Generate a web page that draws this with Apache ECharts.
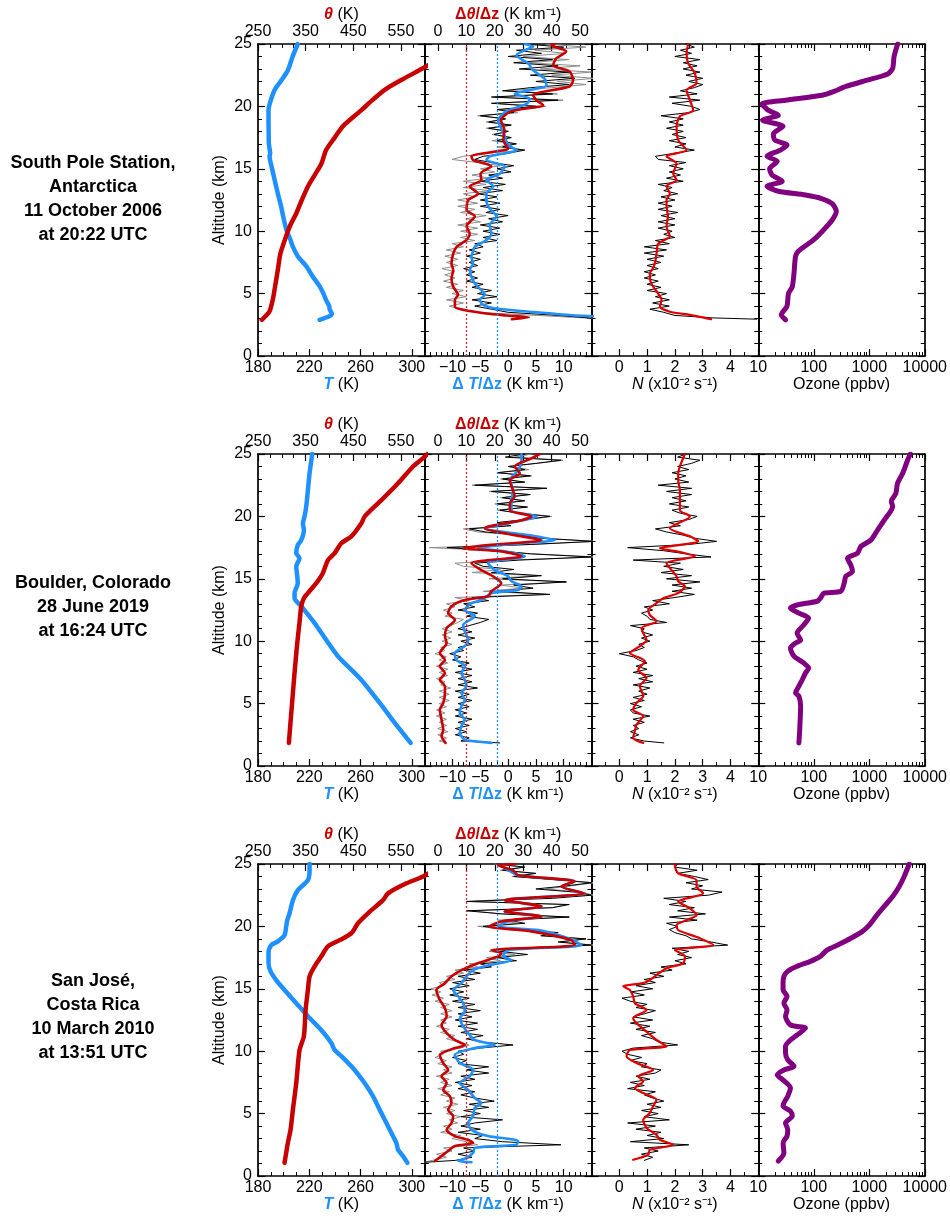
<!DOCTYPE html>
<html>
<head>
<meta charset="utf-8">
<script src="https://cdn.jsdelivr.net/npm/echarts@6/dist/echarts.min.js"></script>
<style>
  html, body { margin: 0; padding: 0; background: #ffffff; }
  #chart { width: 950px; height: 1220px; }
</style>
</head>
<body>
<div id="chart"></div>
<script>
// ---------------------------------------------------------------------------
// Sounding profiles: temperature / potential temperature, vertical gradients,
// buoyancy frequency N and ozone for three balloon launch sites.
// All profiles are stored as [altitude (km), value] pairs.
// ---------------------------------------------------------------------------

const stationLabels = [
  ['South Pole Station,', 'Antarctica', '11 October 2006', 'at 20:22 UTC'],
  ['Boulder, Colorado', '28 June 2019', 'at 16:24 UTC'],
  ['San José,', 'Costa Rica', '10 March 2010', 'at 13:51 UTC']
];

// Tick values
const altTicks = [0, 5, 10, 15, 20, 25];
const altMinor = [1, 2, 3, 4, 6, 7, 8, 9, 11, 12, 13, 14, 16, 17, 18, 19, 21, 22, 23, 24];
const tempTicks = [180, 220, 260, 300];
const tempMinor = [190, 200, 210, 230, 240, 250, 270, 280, 290];
const thetaTicks = [250, 350, 450, 550];
const thetaMinor = [275, 300, 325, 375, 400, 425, 475, 500, 525, 575];
const lapseTicks = [-10, -5, 0, 5, 10];
const lapseMinor = [-14, -13, -12, -11, -9, -8, -7, -6, -4, -3, -2, -1, 1, 2, 3, 4, 6, 7, 8, 9, 11, 12, 13, 14];
const gradTicks = [0, 10, 20, 30, 40, 50];
const gradMinor = [5, 15, 25, 35, 45];
const nTicks = [0, 1, 2, 3, 4];
const nMinor = [-0.5, 0.5, 1.5, 2.5, 3.5, 4.5];
const ozoneTicks = [10, 100, 1000, 10000];
const ozoneMinor = [20, 30, 40, 50, 60, 70, 80, 90, 200, 300, 400, 500, 600, 700, 800, 900,
                    2000, 3000, 4000, 5000, 6000, 7000, 8000, 9000];

// Reference lines in the gradient panels
const lapseRef = -2;   // K/km
const gradRef = 10;    // K/km

// ---------------- South Pole ----------------
const temp1 = [[2.9,228],[3.2,236],[3.4,237.6],[3.7,236],[4.0,235.5],[4.5,233],[5.0,231],[5.6,228],[6.4,222.5],[7.2,217.6],[8.0,211],[8.8,207],[9.4,205],[10.0,202.5],[11.0,200],[12.0,198],[13.0,195.5],[14.1,193],[15.0,191],[16.0,189],[16.2,189.5],[17.0,188.5],[18.0,188.3],[19.0,188.2],[19.7,188.2],[20.5,190],[21.4,193.4],[22.2,199],[22.9,203.3],[24.0,207],[25.0,211]];
const theta1 = [[2.9,258],[3.2,266],[3.55,274],[4.5,281],[5.6,286],[7.0,292],[8.2,297],[9.6,309],[10.5,318],[11.4,330],[12.5,342],[13.6,355],[14.5,369],[15.4,383],[16.5,393],[17.5,411],[18.4,428],[19.7,467],[20.5,490],[21.4,519],[22.2,555],[23.05,596],[24,640],[25,690]];
const lapse1 = [[3.1,22],[3.2,14.5],[3.35,9],[3.55,3.9],[3.8,-2.1],[4.1,-4.5],[4.5,-5.1],[4.9,-4.2],[5.4,-5.1],[5.8,-6.0],[6.35,-6.6],[6.9,-6.9],[7.4,-6.3],[7.95,-6.6],[8.4,-6.3],[8.75,-6.0],[9.3,-3.9],[9.8,-3.0],[10.5,-3.3],[11.2,-2.1],[11.8,-3.3],[12.4,-3.9],[13.0,-3.9],[13.6,-2.7],[14.1,-3.9],[14.6,-1.5],[15.2,-0.6],[15.7,-3.9],[16.0,-3.3],[16.5,1.5],[16.9,0],[17.6,-0.6],[18.2,-1.2],[18.9,-1.8],[19.6,-0.3],[20.2,3.3],[20.6,3.9],[21.0,1.2],[21.7,6.9],[22.2,6.6],[22.9,4.5],[23.45,3.6],[24.1,1.5],[24.5,3],[24.8,4.5],[25,3.0]];
const grad1 = [[2.95,26],[3.1,32],[3.25,24],[3.4,17],[3.7,8.9],[3.95,6.0],[4.5,6.0],[4.9,7.1],[5.55,5.4],[6.2,4.8],[6.9,5.4],[7.4,4.8],[8.2,5.4],[8.75,6.6],[9.3,10.1],[9.8,11.2],[10.4,10.1],[11.2,13],[11.7,10.1],[12.5,10.7],[13.0,14.1],[13.6,11.2],[14.1,15.3],[14.6,15],[15.2,18.8],[15.7,12.4],[16.0,11.8],[16.4,20.6],[16.6,24.7],[17.3,23],[18.1,23.4],[18.9,22.2],[19.6,25.7],[20.1,37],[20.5,34.6],[20.9,33.5],[21.6,46.3],[22.1,47.5],[22.8,46.3],[23.3,40.5],[23.85,41.6],[24.4,45.1],[24.9,39.9],[25,41]];
const lapseRaw1 = [[3,16],[3.25,9],[3.5,0],[3.75,-3],[4,-6],[4.25,-3],[4.5,-6.5],[4.75,-2],[5,-5.5],[5.25,-3],[5.5,-6.5],[5.75,-4.5],[6,-7.5],[6.25,-5.5],[6.5,-7.5],[6.75,-6],[7,-8],[7.25,-5.5],[7.5,-7],[7.75,-5],[8,-7.5],[8.25,-5],[8.5,-7],[8.75,-4.5],[9,-6],[9.25,-2],[9.5,-4.5],[9.75,-1.5],[10,-4.5],[10.25,-1.5],[10.5,-5],[10.75,-1],[11,-3.5],[11.25,0],[11.5,-4],[11.75,-1.5],[12,-5],[12.25,-1.5],[12.5,-5],[12.75,-2],[13,-5.5],[13.25,-1],[13.5,-4.5],[13.75,-0.5],[14,-5],[14.25,-1],[14.5,-3.5],[14.75,0.5],[15,-2],[15.25,1],[15.5,-3],[15.75,-6],[16,-4.5],[16.25,0],[16.5,3],[16.75,-1],[17,1.5],[17.25,-2],[17.5,0.5],[17.75,-2.5],[18,0],[18.25,-3.5],[18.5,0.5],[18.75,-3.5],[19,-0.5],[19.25,-5],[19.5,1],[19.75,-2],[20,5],[20.25,-3],[20.5,9],[20.75,-3],[21,8],[21.25,-1],[21.5,4],[21.75,11],[22,5],[22.25,12],[22.5,4],[22.75,11],[23,2],[23.25,9],[23.5,1],[23.75,8],[24,0],[24.25,6],[24.5,1.5],[24.75,10],[25,3]];
const gradRaw1 = [[3,56],[3.25,35],[3.5,14],[3.75,8],[4,4],[4.25,9],[4.5,3],[4.75,10],[5,5],[5.25,9],[5.5,3],[5.75,7],[6,2],[6.25,6],[6.5,2.5],[6.75,6],[7,1.5],[7.25,7],[7.5,3],[7.75,7],[8,2.5],[8.25,8],[8.5,3],[8.75,9],[9,5],[9.25,13],[9.5,8],[9.75,14],[10,8],[10.25,14],[10.5,7],[10.75,15],[11,10],[11.25,17],[11.5,8],[11.75,13],[12,7],[12.25,14],[12.5,7],[12.75,13],[13,9],[13.25,18],[13.5,9],[13.75,17],[14,9],[14.25,18],[14.5,12],[14.75,20],[15,15],[15.25,22],[15.5,14],[15.75,5],[16,9],[16.25,18],[16.5,30],[16.75,21],[17,27],[17.25,19],[17.5,26],[17.75,19],[18,25],[18.25,17],[18.5,26],[18.75,17],[19,24],[19.25,14],[19.5,28],[19.75,22],[20,38],[20.25,20],[20.5,44],[20.75,20],[21,42],[21.25,24],[21.5,40],[21.75,52],[22,42],[22.25,55],[22.5,40],[22.75,54],[23,36],[23.25,50],[23.5,32],[23.75,46],[24,30],[24.25,45],[24.5,34],[24.75,52],[25,38]];
const n1 = [[2.95,3.3],[3.1,3.0],[3.3,2.54],[3.55,1.82],[3.95,1.46],[4.5,1.52],[5.0,1.40],[5.55,1.22],[6.0,1.12],[6.6,1.1],[7.0,1.2],[7.4,1.28],[8.2,1.34],[9.0,1.4],[9.6,1.82],[10.0,1.75],[10.4,1.7],[11.2,1.75],[12.0,1.7],[12.5,1.7],[13.0,1.82],[13.6,1.7],[14.1,2.06],[14.6,1.94],[15.4,2.06],[16.0,1.7],[16.5,2.42],[17.3,2.12],[18.4,2.06],[19.2,2.18],[19.7,2.66],[20.5,2.54],[21.3,2.42],[21.85,2.78],[22.65,2.72],[23.45,2.48],[24.25,2.42],[25,2.48]];
const nRaw1 = [[2.95,4.95],[3.05,3.4],[3.25,2.0],[3.5,1.6],[3.75,1.1],[4,1.8],[4.25,1.2],[4.5,1.8],[4.75,1.3],[5,1.7],[5.25,1],[5.5,1.5],[5.75,1],[6,1.4],[6.25,0.9],[6.5,1.3],[6.75,0.9],[7,1.4],[7.25,1],[7.5,1.5],[7.75,1],[8,1.6],[8.25,0.9],[8.5,1.7],[8.75,0.9],[9,1.8],[9.25,1.3],[9.5,2],[9.75,1.6],[10,1.9],[10.25,1.4],[10.5,2],[10.75,1.4],[11,2],[11.25,1.5],[11.5,2.1],[11.75,1.4],[12,1.9],[12.25,1.4],[12.5,2],[12.75,1.5],[13,2.1],[13.25,1.6],[13.5,1.9],[13.75,1.4],[14,2.3],[14.25,1.7],[14.5,2.2],[14.75,1.8],[15,2.3],[15.25,1.8],[15.5,2.4],[15.75,1.4],[16,1.3],[16.25,2],[16.5,2.7],[16.75,2],[17,2.4],[17.25,1.8],[17.5,2.4],[17.75,1.9],[18,2.3],[18.25,1.7],[18.5,2.3],[18.75,1.8],[19,2.3],[19.25,1.5],[19.5,2.5],[19.75,2.9],[20,2.6],[20.25,1.9],[20.5,2.9],[20.75,1.8],[21,2.8],[21.25,2.2],[21.5,2.7],[21.75,3],[22,2.5],[22.25,3],[22.5,2.4],[22.75,2.9],[23,2.3],[23.25,2.8],[23.5,2.3],[23.75,2.9],[24,2],[24.25,2.6],[24.5,2.2],[24.75,2.7],[25,2.4]];
const ozone1 = [[2.9,31],[3.3,26],[4.0,33],[5.0,35],[5.55,41],[6.6,44],[8.0,47],[8.4,53],[9.3,99],[10.1,150],[10.9,215],[11.6,255],[12.2,215],[12.6,142],[12.9,71],[13.2,23],[13.6,14.4],[14.0,27],[14.5,17.7],[15.0,16],[15.6,22],[16.0,14.4],[16.5,25],[16.9,33],[17.3,20],[17.8,18.7],[18.4,28],[18.9,12],[19.3,23],[19.7,15],[20.2,11.7],[20.5,31],[20.9,142],[21.2,230],[21.6,380],[22.1,920],[22.6,2150],[23.05,2640],[24.0,2800],[25.0,3250]];

// ---------------- Boulder ----------------
const temp2 = [[1.85,299],[2.5,294],[3.45,286.6],[5.05,274.9],[6.9,260.6],[8.8,242.3],[10.1,233.2],[11.45,224.1],[12.8,213.7],[13.45,208.5],[13.85,208.5],[14.65,211],[15.3,210.5],[16.0,209.8],[16.65,212.4],[17.05,209.8],[17.7,211],[18.1,213.7],[18.9,215.8],[19.45,215],[20.0,216.3],[20.8,217.6],[22.1,218.9],[23.45,220.2],[25,222.3]];
const theta2 = [[1.85,314.8],[4.8,321],[7.45,326.7],[9.85,332.4],[11.45,337],[12.8,340.8],[13.45,346.3],[13.85,354.7],[14.65,372.3],[15.45,386],[16.5,396.8],[17.05,410.8],[17.85,424.9],[18.4,446],[19.45,467],[20.0,474],[21.3,509],[22.65,544],[24.0,575.4],[24.65,596],[25,606]];
const lapse2 = [[1.85,-3.0],[2.0,-6.5],[2.1,-7.8],[2.65,-8.7],[3.2,-8.4],[3.7,-7.8],[4.25,-8.7],[4.8,-8.4],[5.3,-7.8],[5.85,-8.4],[6.4,-7.5],[6.9,-7.8],[7.45,-8.4],[8.0,-7.8],[8.5,-9.3],[9.05,-9.6],[9.6,-7.8],[10.1,-7.2],[10.8,-7.8],[11.3,-8.1],[12.0,-6.0],[12.5,-7.8],[13.05,-6.6],[13.3,-4.8],[13.85,-3.0],[14.1,1.8],[14.4,2.4],[14.8,0.6],[15.2,0],[15.7,-2.4],[16.25,-3.6],[16.8,3.0],[17.2,-0.6],[17.45,-5.4],[17.85,2.4],[18.1,8.4],[18.5,3.6],[19.05,-4.2],[19.45,0],[20.0,5.1],[20.5,0.6],[21.3,0.6],[22.1,0.9],[22.9,0.3],[23.7,1.8],[24.5,2.4],[25,2.4]];
const grad2 = [[1.85,2.7],[2.4,1.3],[2.9,1.9],[3.7,1.3],[4.5,0.7],[5.05,1.9],[5.85,2.5],[6.4,2.5],[6.9,0.7],[7.45,2.5],[8.0,0.7],[8.5,2.5],[9.05,0.7],[9.85,3.1],[10.4,2.5],[11.05,3.1],[11.7,6.0],[12.25,3.6],[12.8,4.8],[13.3,9.5],[13.6,17.7],[14.0,18.8],[14.65,22.3],[15.2,19.4],[15.7,15.3],[16.25,11.8],[16.8,29.4],[17.2,22.3],[17.45,8.9],[17.7,17.7],[18.1,36.4],[18.5,27],[19.05,16.5],[19.7,29.4],[20.0,32.9],[20.5,25.3],[21.05,25.3],[21.6,27],[22.1,26.4],[22.9,25.3],[23.45,28.8],[24.0,27],[24.65,32.9],[25,35.8]];
const lapseRaw2 = [[1.85,-1.5],[2,-8.5],[2.25,-7],[2.5,-9.5],[2.75,-7.5],[3,-9.5],[3.25,-7],[3.5,-9],[3.75,-6.5],[4,-9.5],[4.25,-7.5],[4.5,-9.5],[4.75,-7],[5,-9],[5.25,-6.5],[5.5,-9],[5.75,-7],[6,-9.5],[6.25,-5.5],[6.5,-9],[6.75,-6.5],[7,-9],[7.25,-6.5],[7.5,-9.5],[7.75,-6.5],[8,-9],[8.25,-7],[8.5,-10],[8.75,-8.5],[9,-10.5],[9.25,-8],[9.5,-9],[9.75,-6.5],[10,-8.5],[10.25,-6],[10.5,-9],[10.75,-6.5],[11,-9],[11.25,-7],[11.5,-5],[11.75,-3.5],[12,-7.5],[12.25,-5.5],[12.5,-9],[12.75,-6],[13,-8],[13.25,-3.5],[13.5,-6.5],[13.75,7.5],[14,-2],[14.25,4.5],[14.5,1],[14.75,10.5],[15,-1],[15.25,6],[15.5,-3],[15.75,1],[16,-4.5],[16.25,-6],[16.5,2],[16.75,15],[17,4],[17.25,-2],[17.5,-11],[17.75,4],[18,15.5],[18.25,6],[18.5,2],[18.75,-4],[19,-7],[19.25,0.5],[19.5,-2],[19.75,3],[20,7.5],[20.25,2],[20.5,-1.5],[20.75,3.5],[21,-2],[21.25,3],[21.5,-1],[21.75,4],[22,-3],[22.25,7],[22.5,-6],[22.75,3],[23,-1],[23.25,4],[23.5,-2],[23.75,3],[24,0],[24.25,5],[24.5,9.5],[24.75,-0.5],[25,3]];
const gradRaw2 = [[1.85,3],[2,0.5],[2.25,3],[2.5,0],[2.75,3.5],[3,0],[3.25,3],[3.5,0.5],[3.75,3],[4,-0.5],[4.25,2.5],[4.5,-0.5],[4.75,3],[5,0.5],[5.25,4],[5.5,0.5],[5.75,4],[6,0.5],[6.25,4.5],[6.5,1],[6.75,2.5],[7,-0.5],[7.25,3.5],[7.5,0.5],[7.75,3.5],[8,-0.5],[8.25,3.5],[8.5,0.5],[8.75,3],[9,-1],[9.25,2.5],[9.5,1],[9.75,5],[10,1.5],[10.25,4.5],[10.5,1.5],[10.75,5],[11,1.5],[11.25,4.5],[11.5,7],[11.75,9],[12,2.5],[12.25,5],[12.5,2],[12.75,6],[13,3],[13.25,11],[13.5,6],[13.75,38],[14,16],[14.25,30],[14.5,22],[14.75,45],[15,18],[15.25,35],[15.5,12],[15.75,22],[16,9],[16.25,6],[16.5,25],[16.75,56],[17,33],[17.25,20],[17.5,-3],[17.75,32],[18,56],[18.25,36],[18.5,28],[18.75,14],[19,9],[19.25,24],[19.5,21],[19.75,32],[20,40],[20.25,29],[20.5,21],[20.75,31],[21,20],[21.25,30],[21.5,22],[21.75,32],[22,18],[22.25,38],[22.5,12],[22.75,30],[23,22],[23.25,33],[23.5,21],[23.75,32],[24,25],[24.25,35],[24.5,44],[24.75,27],[25,33]];
const n2 = [[1.85,0.86],[2.25,0.5],[2.8,0.56],[3.3,0.62],[4.0,0.86],[4.5,0.5],[5.05,0.62],[5.6,0.86],[6.4,0.74],[7.05,0.98],[7.7,0.68],[8.4,0.92],[9.05,0.38],[9.6,0.74],[10.1,0.98],[10.65,0.86],[11.05,0.8],[11.6,1.34],[12.1,1.1],[12.5,1.04],[13.05,1.34],[13.45,1.58],[13.85,2.12],[14.4,2.36],[14.8,2.12],[15.2,2.06],[15.7,1.88],[16.25,1.7],[16.8,2.72],[17.2,2.06],[17.45,1.46],[18.0,2.84],[18.4,2.54],[19.05,1.82],[20.0,2.54],[20.5,2.18],[21.3,2.18],[22.1,2.18],[22.9,2.12],[23.45,2.12],[24.0,2.18],[25,2.36]];
const nRaw2 = [[1.85,1.6],[2,0.9],[2.25,0.4],[2.5,0.7],[2.75,0.4],[3,0.7],[3.25,0.5],[3.5,0.9],[3.75,0.5],[4,1.1],[4.25,0.5],[4.5,0.4],[4.75,0.8],[5,0.4],[5.25,0.9],[5.5,0.5],[5.75,1],[6,0.7],[6.25,1.1],[6.5,0.5],[6.75,1.2],[7,0.7],[7.25,1.2],[7.5,0.5],[7.75,1],[8,0.6],[8.25,1],[8.5,0.7],[8.75,0.5],[9,0],[9.25,0.6],[9.5,0.9],[9.75,0.7],[10,1.1],[10.25,0.8],[10.5,1.2],[10.75,0.8],[11,0.9],[11.25,0.4],[11.5,1.7],[11.75,1.1],[12,1],[12.25,0.8],[12.5,1.2],[12.75,0.9],[13,1.8],[13.25,1.2],[13.5,2],[13.75,2.7],[14,1.9],[14.25,2.6],[14.5,1.9],[14.75,2.9],[15,1.7],[15.25,2.6],[15.5,1.5],[15.75,2.3],[16,1.6],[16.25,2.2],[16.5,0.5],[16.75,3.3],[17,2.4],[17.25,1.6],[17.5,0.3],[17.75,2.5],[18,3.5],[18.25,2.7],[18.5,2.3],[18.75,1.7],[19,1.3],[19.25,2.2],[19.5,1.8],[19.75,2.5],[20,2.8],[20.25,2.2],[20.5,1.9],[20.75,2.5],[21,1.8],[21.25,2.4],[21.5,1.9],[21.75,2.6],[22,1.7],[22.25,2.6],[22.5,1.4],[22.75,2.5],[23,2],[23.25,2.4],[23.5,1.9],[23.75,2.5],[24,2.1],[24.25,2.6],[24.5,2.9],[24.75,2.1],[25,2.4]];
const ozone2 = [[1.85,54],[3.0,56],[4.8,58],[5.6,54],[5.85,47],[6.4,54],[6.9,62],[7.45,71],[7.85,81],[8.25,66],[8.8,44],[9.45,38],[9.85,47],[10.1,58],[10.65,50],[10.9,54],[11.3,66],[11.85,81],[12.25,54],[12.65,38],[12.9,50],[13.2,115],[13.45,132],[13.85,152],[14.0,307],[14.65,354],[15.2,378],[15.6,500],[16.1,466],[16.65,405],[17.05,615],[17.6,710],[18.1,1070],[18.9,1410],[19.7,1860],[20.8,2640],[21.2,2500],[21.85,3020],[22.65,3230],[23.45,4000],[24.5,4900],[25,5500]];

// ---------------- San José ----------------
const temp3 = [[1.05,296.5],[1.6,293],[2.1,289.2],[2.65,287.9],[3.2,285.2],[4.25,280.1],[5.3,274.9],[6.4,269.6],[7.45,263.1],[8.5,255.3],[9.6,245],[10.1,239.7],[10.65,237.2],[11.7,229.3],[12.8,218.9],[13.85,209.8],[14.9,200.7],[15.7,194.2],[16.4,189.8],[17.05,188.2],[17.85,188.2],[18.5,190.3],[18.8,195.5],[19.3,200.7],[20.0,202],[20.5,202.8],[21.05,204.6],[22.1,207.2],[22.9,211.1],[23.7,218.9],[24.5,220.2],[25,220.2]];
const theta3 = [[1.05,305.7],[2.65,312.7],[3.7,318.3],[5.3,323.2],[7.45,330.3],[10.1,337.2],[11.2,346.3],[13.3,349.9],[14.9,354.7],[16.0,358.3],[16.8,368.8],[17.6,382.9],[18.4,396.7],[18.9,421.3],[19.45,446],[20.25,459.8],[21.05,480.8],[22.1,512.4],[22.65,522.9],[23.45,561.5],[24.0,596.4],[25,640]];
const lapse3 = [[1.1,-6.6],[1.2,-9.0],[1.45,-7.5],[1.85,-6.3],[2.25,-6.0],[2.4,-2],[2.5,1.5],[2.8,1.8],[3.2,-3.6],[3.7,-6.6],[4.25,-7.2],[4.8,-6.3],[5.45,-6.0],[5.85,-4.8],[6.25,-6.0],[6.9,-7.2],[7.45,-8.7],[8.0,-6.9],[8.5,-6.3],[9.05,-8.7],[9.7,-9.6],[10.25,-6.0],[10.5,-2.4],[10.9,-6.0],[11.45,-7.2],[12.0,-8.1],[12.65,-8.7],[13.2,-7.8],[13.85,-8.1],[14.4,-9.0],[14.9,-9.9],[15.45,-8.4],[16.0,-7.5],[16.5,-6.3],[16.9,-3.3],[17.3,0.6],[17.65,-0.9],[18.1,0],[18.5,13.2],[19.05,10.8],[19.7,5.4],[20.0,-1.8],[20.4,0],[20.8,6.0],[21.2,-0.6],[21.6,6.0],[22.1,-0.6],[22.65,13.5],[23.2,9.6],[23.6,12],[24.1,1.8],[24.5,0],[24.9,-1.2],[25,-0.5]];
const grad3 = [[1.2,-1],[1.6,1.3],[2.0,3.6],[2.4,6.0],[2.65,12.4],[2.9,10.6],[3.2,6.0],[3.7,3.1],[4.25,4.8],[4.8,5.4],[5.3,3.6],[5.85,4.8],[6.4,4.2],[6.9,1.9],[7.45,3.1],[8.0,1.3],[8.5,3.6],[9.05,1.9],[9.7,0.7],[10.25,6.0],[10.5,9.5],[10.9,6.0],[11.45,3.1],[12.1,1.3],[12.8,3.1],[13.45,2.5],[14.1,0.7],[14.9,-0.5],[15.45,2.5],[16.0,4.8],[16.5,8.3],[17.05,14.1],[17.6,21.2],[17.85,22.3],[18.1,18.8],[18.5,48.1],[18.9,46.9],[19.6,32.9],[20.0,18.2],[20.4,22.3],[20.8,36.4],[21.2,23.5],[21.6,36.4],[22.1,23.5],[22.65,51.6],[23.2,43.4],[23.6,48.1],[24.1,28.2],[24.5,26.4],[24.9,21.2],[25,27]];
const lapseRaw3 = [[1.1,-15],[1.25,-9.5],[1.5,-6.5],[1.75,-9],[2,-6],[2.25,-8],[2.5,9.5],[2.75,-1],[3,-6],[3.25,-4.5],[3.5,-9],[3.75,-5],[4,-8.5],[4.25,-6],[4.5,-1],[4.75,-8.5],[5,-5],[5.25,-8],[5.5,-3.5],[5.75,-7],[6,-2.5],[6.25,-6],[6.5,-8.5],[6.75,-6],[7,-9],[7.25,-6.5],[7.5,-9.5],[7.75,-6],[8,-8.5],[8.25,-3.5],[8.5,-7.5],[8.75,-3.5],[9,-9],[9.25,-7.5],[9.5,-10],[9.75,-8],[10,-9],[10.25,-5],[10.5,0.9],[10.75,-5],[11,-7.5],[11.25,-4.5],[11.5,-8.5],[11.75,-5.5],[12,-9],[12.25,-5.5],[12.5,-9.5],[12.75,-6.5],[13,-9],[13.25,-5],[13.5,-9],[13.75,-6],[14,-10],[14.25,-7],[14.5,-10.5],[14.75,-8],[15,-10.5],[15.25,-7],[15.5,-10],[15.75,-6],[16,-9],[16.25,-5],[16.5,-8],[16.75,-3],[17,-5],[17.25,1.5],[17.5,-2],[17.75,3.5],[18,-1.5],[18.25,2],[18.5,15],[18.75,9],[19,14],[19.25,6],[19.5,9],[19.75,1],[20,-4.5],[20.25,3],[20.5,0],[20.75,11],[21,-1],[21.25,-7.5],[21.5,8],[21.75,11],[22,-7.5],[22.25,8],[22.5,15],[22.75,12],[23,5],[23.25,10.5],[23.5,15],[23.75,8],[24,1],[24.25,5],[24.5,-1],[24.75,3],[25,-2]];
const gradRaw3 = [[1.1,-4.8],[1.25,-2],[1.5,3],[1.75,-0.5],[2,5],[2.25,2],[2.5,14],[2.75,10],[3,5],[3.25,8],[3.5,1],[3.75,5],[4,2],[4.25,7],[4.5,4],[4.75,8],[5,3],[5.25,6],[5.5,2],[5.75,7],[6,3],[6.25,6],[6.5,1],[6.75,4],[7,0],[7.25,5],[7.5,1],[7.75,4],[8,-0.5],[8.25,5],[8.5,2],[8.75,5],[9,0],[9.25,3],[9.5,-1],[9.75,2],[10,1],[10.25,8],[10.5,11],[10.75,7],[11,3],[11.25,6],[11.5,1],[11.75,4],[12,-0.5],[12.25,3],[12.5,1],[12.75,5],[13,1],[13.25,5],[13.5,1],[13.75,4],[14,-1],[14.25,2],[14.5,-2],[14.75,1],[15,-2.5],[15.25,2],[15.5,0.5],[15.75,6],[16,3],[16.25,9],[16.5,6],[16.75,14],[17,11],[17.25,22],[17.5,17],[17.75,27],[18,18],[18.25,26],[18.5,55],[18.75,43],[19,52],[19.25,36],[19.5,42],[19.75,25],[20,14],[20.25,28],[20.5,21],[20.75,46],[21,22],[21.25,12],[21.5,40],[21.75,45],[22,11],[22.25,30],[22.5,55],[22.75,50],[23,38],[23.25,47],[23.5,55],[23.75,42],[24,26],[24.25,34],[24.5,22],[24.75,30],[25,20]];
const n3 = [[1.3,0.5],[1.7,1.04],[2.1,1.1],[2.5,1.94],[2.9,1.46],[3.3,1.34],[3.85,0.98],[4.5,0.86],[5.05,1.1],[5.6,1.22],[6.1,1.34],[6.65,0.86],[7.05,0.56],[7.6,0.86],[8.0,0.68],[8.5,1.22],[9.05,0.62],[9.6,0.26],[10.1,0.38],[10.4,1.7],[10.9,1.34],[11.45,1.04],[12.25,0.62],[12.65,0.5],[13.3,0.98],[13.85,0.56],[14.4,0.5],[14.9,0.38],[15.2,0.14],[15.45,0.86],[15.7,1.1],[16.1,1.34],[16.65,1.7],[17.05,2.3],[17.6,2.36],[18.1,2.0],[18.5,3.38],[19.05,2.9],[19.7,2.12],[20.1,2.06],[20.5,2.42],[20.9,2.78],[21.45,2.54],[22.0,2.12],[22.65,3.02],[23.2,2.78],[23.7,2.78],[24.25,2.12],[24.9,2.0],[25,2.0]];
const nRaw3 = [[1.25,0.9],[1.5,1.2],[1.75,0.8],[2,1.4],[2.25,0.9],[2.5,2.5],[2.75,0.4],[3,1.6],[3.25,1],[3.5,1.5],[3.75,0.6],[4,1.3],[4.25,0.3],[4.5,1.8],[4.75,0.9],[5,1.4],[5.25,0.8],[5.5,1.5],[5.75,1],[6,1.6],[6.25,1.2],[6.5,0.9],[6.75,1.3],[7,0.3],[7.25,0.9],[7.5,0.4],[7.75,1.1],[8,0.6],[8.25,1.3],[8.5,1.5],[8.75,0.8],[9,1],[9.25,0.4],[9.5,0.8],[9.75,0.3],[10,0.1],[10.25,0.5],[10.5,2.1],[10.75,1.4],[11,1.2],[11.25,0.8],[11.5,1.3],[11.75,0.6],[12,1.1],[12.25,0.4],[12.5,1.2],[12.75,0.5],[13,0.9],[13.25,1.3],[13.5,0.6],[13.75,1],[14,0.4],[14.25,0.1],[14.5,0.9],[14.75,0.4],[15,1.2],[15.25,0.6],[15.5,1.3],[15.75,0.9],[16,1.6],[16.25,1.1],[16.5,1.9],[16.75,1.5],[17,2.4],[17.25,2],[17.5,2.6],[17.75,2.1],[18,2.5],[18.25,1.9],[18.5,3.9],[18.75,3.3],[19,2.6],[19.25,2.4],[19.5,2],[19.75,1.8],[20,2.1],[20.25,1.7],[20.5,2.8],[20.75,1.8],[21,3.1],[21.25,2.1],[21.5,2.7],[21.75,1.8],[22,2.4],[22.25,1.6],[22.5,3.2],[22.75,3.7],[23,2.6],[23.25,3],[23.5,2.4],[23.75,3.2],[24,2.7],[24.25,2.1],[24.5,2.8],[24.75,2],[25,2.1]];
const ozone3 = [[1.2,23],[1.85,29],[2.65,28],[3.2,33],[3.7,34],[4.25,31],[4.8,41],[5.2,38],[5.6,28],[5.85,29],[6.4,34],[7.05,38],[7.7,28],[8.1,22],[8.5,29],[8.8,44],[9.3,34],[9.85,31],[10.4,31],[10.9,38],[11.3,50],[11.85,71],[12.1,38],[12.8,31],[13.3,33],[13.85,29],[14.4,33],[14.9,28],[15.45,28],[16.0,29],[16.4,34],[16.8,50],[17.2,87],[17.6,132],[18.1,173],[18.5,268],[19.05,466],[19.6,755],[20.1,1000],[20.8,1320],[21.6,1860],[22.4,2640],[23.2,3470],[24.0,4260],[25,5260]];

// ---------------------------------------------------------------------------
const rows = [
  { temp: temp1, theta: theta1, lapse: lapse1, grad: grad1, lapseRaw: lapseRaw1, gradRaw: gradRaw1, n: n1, nRaw: nRaw1, ozone: ozone1 },
  { temp: temp2, theta: theta2, lapse: lapse2, grad: grad2, lapseRaw: lapseRaw2, gradRaw: gradRaw2, n: n2, nRaw: nRaw2, ozone: ozone2 },
  { temp: temp3, theta: theta3, lapse: lapse3, grad: grad3, lapseRaw: lapseRaw3, gradRaw: gradRaw3, n: n3, nRaw: nRaw3, ozone: ozone3 }
];

const FONT = '"Liberation Sans", Arial, Helvetica, sans-serif';
const BLUE = '#1E90FF';
const RED = '#C80000';
const NRED = '#E00000';
const PURPLE = '#800080';
const GRAY = '#8C8C8C';

const LAYOUT = { left: 258, panelW: 166.75, rowTop: [44, 454, 864], panelH: 312, labelX: 93, labelY: [199, 607, 1017] };

const RICH = {
  bi: { color: BLUE, fontWeight: 'bold', fontStyle: 'italic', fontSize: 16, fontFamily: FONT },
  b:  { color: BLUE, fontWeight: 'bold', fontSize: 16, fontFamily: FONT },
  ri: { color: RED, fontWeight: 'bold', fontStyle: 'italic', fontSize: 16, fontFamily: FONT },
  r:  { color: RED, fontWeight: 'bold', fontSize: 16, fontFamily: FONT },
  i:  { color: '#000', fontStyle: 'italic', fontSize: 16, fontFamily: FONT }
};
const NAME_STYLE = { fontSize: 16, color: '#000', fontFamily: FONT, rich: RICH };

const fmtTick = v => String(v).replace('-', '\u2212');

// x-axis specs per panel column: bottom and top
const panelAxes = [
  { bottom: { min: 180, max: 310, major: tempTicks, minor: tempMinor, labels: true, name: '{bi|T} (K)' },
    top:    { min: 250, max: 600, major: thetaTicks, minor: thetaMinor, labels: true, name: '{ri|θ} (K)' } },
  { bottom: { min: -15, max: 15, major: lapseTicks, minor: lapseMinor, labels: true, name: '{b|Δ }{bi|T}{b|/Δz} (K km⁻¹)' },
    top:    { min: -4.6, max: 54, major: gradTicks, minor: gradMinor, labels: true, name: '{r|Δ}{ri|θ}{r|/Δz} (K km⁻¹)' } },
  { bottom: { min: -1, max: 5, major: nTicks, minor: nMinor, labels: true, name: '{i|N} (x10⁻² s⁻¹)' },
    top:    { min: -1, max: 5, major: nTicks, minor: nMinor, labels: false } },
  { bottom: { type: 'log', min: 10, max: 10000, major: ozoneTicks, minor: ozoneMinor, labels: true, name: 'Ozone (ppbv)' },
    top:    { type: 'log', min: 10, max: 10000, major: ozoneTicks, minor: ozoneMinor, labels: false } }
];
const altSpec = { min: 0, max: 25, major: altTicks, minor: altMinor };

const option = { animation: false, backgroundColor: '#fff', grid: [], xAxis: [], yAxis: [], series: [], graphic: [] };

function pushAxisPair(kind, g, position, spec, showLabels, name, nameGap, nameRotate) {
  const list = kind === 'x' ? option.xAxis : option.yAxis;
  const common = {
    gridIndex: g, position: position, type: spec.type || 'value', min: spec.min, max: spec.max,
    splitLine: { show: false }, minorTick: { show: false }, axisPointer: { show: false }, silent: true
  };
  if (spec.type === 'log') common.logBase = 10;
  const major = Object.assign({}, common, {
    axisLine: { show: true, onZero: false, lineStyle: { color: '#000', width: 1.7 } },
    axisTick: { show: true, inside: true, length: 7, customValues: spec.major, lineStyle: { color: '#000', width: 1.2 } },
    axisLabel: { show: !!showLabels, customValues: spec.major, margin: kind === 'x' ? 4 : 6,
                 color: '#000', fontSize: 16, fontFamily: FONT, formatter: fmtTick }
  });
  if (name) {
    Object.assign(major, { name: name, nameLocation: 'middle', nameGap: nameGap, nameTextStyle: NAME_STYLE });
    if (nameRotate != null) major.nameRotate = nameRotate;
  }
  list.push(major);
  const idx = list.length - 1;
  list.push(Object.assign({}, common, {
    axisLine: { show: false, onZero: false },
    axisTick: { show: true, inside: true, length: 4, customValues: spec.minor, lineStyle: { color: '#000', width: 1 } },
    axisLabel: { show: false }
  }));
  return idx;
}

const swap = pts => pts.map(p => [p[1], p[0]]);

function lineSeries(xi, yi, data, color, width, z, extra) {
  return Object.assign({
    type: 'line', xAxisIndex: xi, yAxisIndex: yi, data: swap(data),
    showSymbol: false, symbol: 'none', clip: true, silent: true, z: z,
    lineStyle: { color: color, width: width, join: 'round', cap: 'round' }
  }, extra || {});
}
// thick profile curves are drawn with a light spline through the samples
const SMOOTH = { smooth: 0.25 };

function dottedRef(axisValue, color) {
  return { symbol: 'none', silent: true, label: { show: false }, animation: false,
           lineStyle: { color: color, width: 1.3, type: [2, 2] }, data: [{ xAxis: axisValue }] };
}

rows.forEach((row, r) => {
  const axes = [];
  for (let c = 0; c < 4; c++) {
    option.grid.push({ left: LAYOUT.left + c * LAYOUT.panelW, top: LAYOUT.rowTop[r],
                       width: LAYOUT.panelW, height: LAYOUT.panelH, show: false, containLabel: false });
    const g = option.grid.length - 1;
    const pa = panelAxes[c];
    const xb = pushAxisPair('x', g, 'bottom', pa.bottom, pa.bottom.labels, pa.bottom.name, 19);
    const xt = pushAxisPair('x', g, 'top', pa.top, pa.top.labels, pa.top.name, 21);
    const yl = pushAxisPair('y', g, 'left', altSpec, c === 0, c === 0 ? 'Altitude (km)' : '', 30, 90);
    pushAxisPair('y', g, 'right', altSpec, false);
    axes.push({ xb, xt, yl });
  }
  const [p1, p2, p3, p4] = axes;
  // temperature and potential temperature
  option.series.push(lineSeries(p1.xb, p1.yl, row.temp, BLUE, 4.5, 3, SMOOTH));
  option.series.push(lineSeries(p1.xt, p1.yl, row.theta, RED, 4.5, 4, SMOOTH));
  // gradients: raw (thin) and smoothed (thick)
  option.series.push(lineSeries(p2.xt, p2.yl, row.gradRaw, GRAY, 1, 2, { markLine: dottedRef(gradRef, '#D03030') }));
  option.series.push(lineSeries(p2.xb, p2.yl, row.lapseRaw, '#000', 1, 2, { markLine: dottedRef(lapseRef, BLUE) }));
  option.series.push(lineSeries(p2.xb, p2.yl, row.lapse, BLUE, 2.6, 3, SMOOTH));
  option.series.push(lineSeries(p2.xt, p2.yl, row.grad, RED, 2.6, 4, SMOOTH));
  // buoyancy frequency
  option.series.push(lineSeries(p3.xb, p3.yl, row.nRaw, '#000', 1, 2));
  option.series.push(lineSeries(p3.xb, p3.yl, row.n, NRED, 2.2, 3, SMOOTH));
  // ozone
  option.series.push(lineSeries(p4.xb, p4.yl, row.ozone, PURPLE, 5, 3, SMOOTH));

  option.graphic.push({
    type: 'text', x: LAYOUT.labelX, y: LAYOUT.labelY[r], silent: true,
    style: { text: stationLabels[r].join('\n'), fill: '#000', align: 'center', verticalAlign: 'middle',
             font: 'bold 18px ' + FONT, lineHeight: 24 }
  });
});

const chart = echarts.init(document.getElementById('chart'), null, { renderer: 'canvas' });
chart.setOption(option);
</script>
</body>
</html>
